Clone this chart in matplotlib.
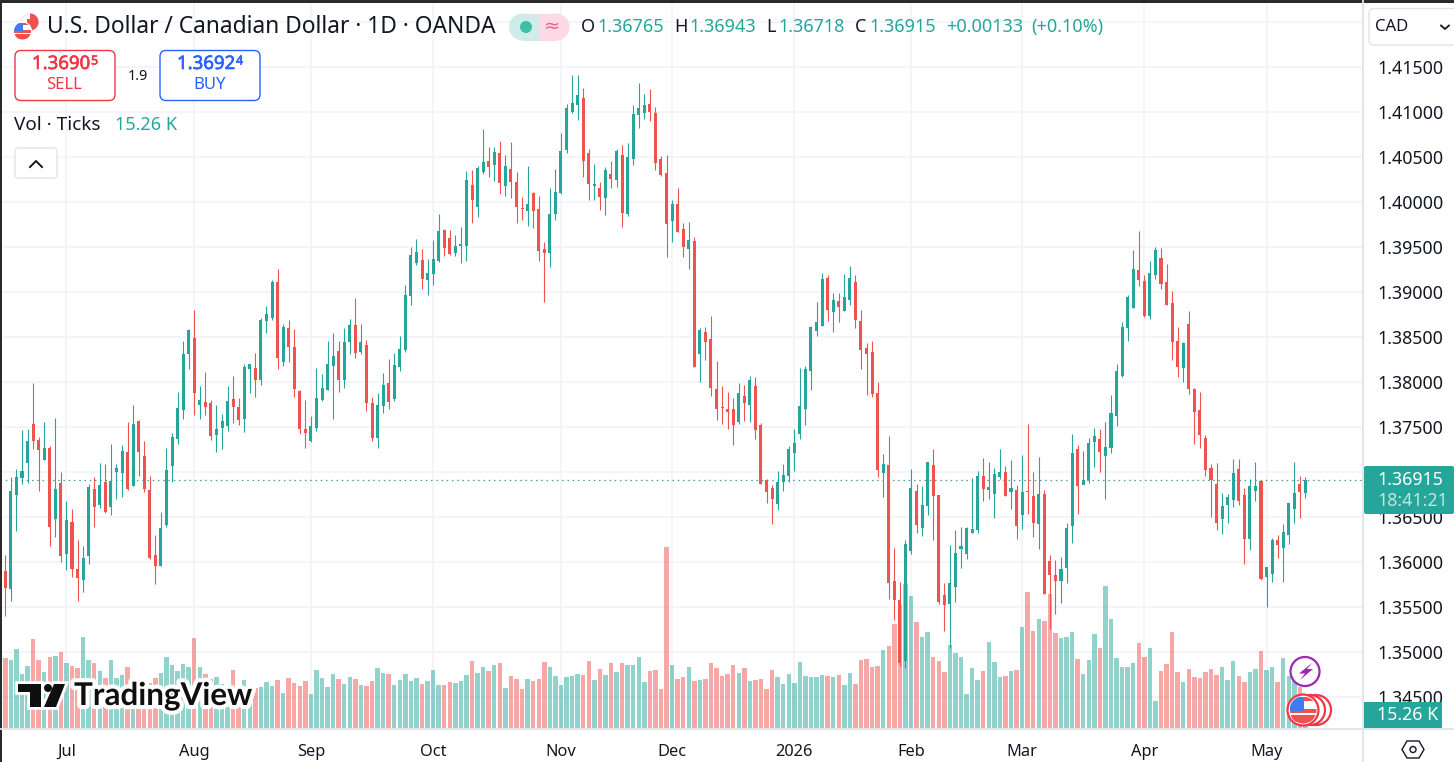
import numpy as np
import matplotlib
matplotlib.use("Agg")
import matplotlib.pyplot as plt
from matplotlib.patches import Circle, FancyBboxPatch, Polygon, Rectangle, Wedge
import matplotlib.patheffects as pe

# daily candles, prices in points (1e-5)
opens = [
    136026, 135904, 135704, 136748, 136937, 137104, 137537, 137359, 137137, 137270,
    136481, 136881, 136093, 136448, 135926, 135804, 136070, 136815, 136637, 136893,
    136615, 137004, 136993, 137226, 136848, 137570, 137181, 136804, 136081, 135959,
    136415, 137070, 137370, 137693, 138315, 138493, 137748, 137781, 137770, 137415,
    137493, 137515, 137815, 137726, 137593, 138148, 138159, 138026, 138681, 138715,
    139115, 138226, 138604, 138393, 137904, 137481, 137348, 137493, 137804, 137915,
    138181, 138348, 138026, 138448, 138637, 138337, 138415, 137770, 137381, 137737,
    137993, 137815, 138170, 138359, 138959, 139326, 139359, 139137, 139204, 139348,
    139693, 139604, 139437, 139515, 139515, 140193, 139948, 140337, 140459, 140415,
    140548, 140181, 140370, 140226, 139937, 139904, 140104, 139926, 139481, 139437,
    139870, 140104, 140581, 141004, 141081, 141159, 140548, 140181, 140159, 140048,
    140315, 140248, 140526, 139870, 140481, 140970, 140993, 141093, 140993, 140481,
    140326, 139793, 139981, 139704, 139481, 139570, 138315, 138559, 138481, 137926,
    137726, 137704, 137704, 137559, 137848, 137748, 137959, 137526, 136915, 136826,
    136648, 136893, 136959, 137215, 137426, 137704, 138126, 138570, 138626, 139159,
    138781, 138904, 138793, 138915, 139115, 138681, 138381, 138337, 137881, 136993,
    137081, 135793, 135581, 134904, 136126, 136793, 136381, 136626, 137081, 136748,
    135637, 135537, 135726, 136148, 136093, 136326, 136359, 136959, 136804, 136759,
    136948, 137004, 136781, 136804, 136526, 136793, 136737, 136426, 136759, 136015,
    135859, 135793, 135937, 136404, 137259, 136859, 136915, 137337, 137370, 137181,
    137270, 137626, 138070, 138604, 138826, 139248, 139126, 138737, 139193, 139381,
    139115, 138881, 138459, 138159, 138648, 137926, 137693, 137381, 137048, 136870,
    136481, 136637, 136693, 137037, 136748, 136259, 136793, 136904, 135837, 135870,
    136248, 136159, 136304, 136593, 136870, 136765,
]
highs = [
    136100, 136081, 136944, 137037, 137470, 137481, 137993, 137393, 137559, 137293,
    137604, 137004, 136681, 136593, 136248, 136181, 136870, 136948, 137104, 137093,
    137315, 137093, 137304, 137559, 137748, 137581, 137348, 136959, 136304, 136559,
    137270, 137437, 137893, 138459, 138593, 138804, 137959, 138115, 137804, 137748,
    137648, 137959, 138070, 137826, 138204, 138204, 138326, 138715, 138848, 139137,
    139259, 138648, 138693, 138593, 137915, 137804, 137626, 138159, 138093, 138459,
    138548, 138459, 138604, 138704, 138937, 138648, 138470, 137837, 137881, 138104,
    138259, 138326, 138515, 139081, 139504, 139593, 139481, 139370, 139581, 139870,
    139704, 139693, 139637, 139726, 140348, 140359, 140404, 140815, 140615, 140615,
    140681, 140526, 140670, 140337, 140059, 140404, 140115, 140070, 139559, 140159,
    140370, 140770, 141093, 141415, 141415, 141270, 140593, 140426, 140226, 140393,
    140459, 140593, 140637, 140659, 141081, 141326, 141204, 141259, 141059, 140515,
    140526, 140026, 140159, 139770, 139781, 139615, 138604, 138615, 138737, 138237,
    137959, 137893, 137826, 137993, 137970, 138070, 138059, 137548, 136926, 136859,
    137015, 137093, 137293, 137481, 138159, 138181, 138626, 138893, 139215, 139193,
    138993, 138993, 139204, 139293, 139193, 138804, 138437, 138459, 138004, 137204,
    137404, 136159, 135781, 136248, 137037, 136870, 136848, 137115, 137259, 136748,
    135770, 136193, 136359, 136393, 136393, 136937, 137015, 137159, 137115, 137048,
    137259, 137070, 137137, 136859, 137193, 137537, 137004, 137170, 136804, 136081,
    136026, 136059, 136437, 137426, 137304, 137237, 137381, 137493, 137481, 137559,
    137859, 138204, 138670, 138970, 139470, 139681, 139193, 139348, 139504, 139493,
    139315, 139015, 138615, 138448, 138793, 137937, 137893, 137415, 137093, 137104,
    136770, 136759, 137148, 137148, 136826, 136926, 137115, 136904, 135948, 136270,
    136304, 136426, 136659, 137115, 136959, 136943,
]
lows = [
    135804, 135404, 135574, 136348, 136870, 136881, 137259, 136793, 137137, 136181,
    136281, 136004, 135915, 135837, 135570, 135670, 135981, 136393, 136604, 136548,
    136526, 136704, 136726, 136804, 136848, 136959, 136781, 136037, 135763, 135959,
    136393, 136893, 137315, 137593, 138148, 137637, 137593, 137637, 137359, 137226,
    137259, 137459, 137548, 137526, 137448, 137881, 137837, 137970, 138548, 138693,
    138148, 138181, 138226, 137837, 137426, 137270, 137337, 137459, 137793, 137915,
    137593, 137893, 137937, 138315, 138270, 138315, 137681, 137348, 137270, 137659,
    137704, 137793, 138126, 138337, 138859, 139304, 139037, 138970, 139081, 139337,
    139404, 139415, 139404, 139326, 139348, 139770, 139837, 140315, 140281, 140237,
    140093, 140070, 140048, 139770, 139804, 139737, 139715, 139348, 138893, 139281,
    139804, 140093, 140548, 140993, 140915, 140281, 140026, 140026, 139915, 139859,
    140159, 140170, 139726, 139848, 140415, 140826, 140926, 140904, 140359, 140293,
    139393, 139559, 139670, 139393, 139259, 138170, 138004, 138248, 137848, 137581,
    137537, 137481, 137304, 137537, 137570, 137559, 137370, 136870, 136659, 136426,
    136581, 136793, 136893, 137015, 137370, 137526, 137915, 138515, 138626, 138681,
    138559, 138670, 138793, 138859, 138604, 138148, 137859, 137837, 136948, 136726,
    135593, 135359, 134848, 134826, 136093, 136326, 136293, 136526, 136248, 135537,
    135237, 135048, 135559, 135937, 136037, 136326, 136326, 136681, 136704, 136493,
    136926, 136737, 136593, 136259, 136370, 136537, 136281, 136148, 135648, 135259,
    135426, 135548, 135770, 136215, 136537, 136881, 136881, 137059, 137004, 136704,
    137215, 137515, 138059, 138459, 138826, 139070, 138726, 138704, 139148, 139037,
    138859, 138248, 138059, 138004, 137870, 137315, 137270, 136959, 136504, 136359,
    136315, 136437, 136615, 136637, 135981, 136137, 136681, 135804, 135504, 135781,
    136048, 135781, 136204, 136437, 136493, 136718,
]
closes = [
    135830, 135715, 136793, 136948, 137015, 137348, 137348, 137248, 137270, 136393,
    136815, 136070, 136470, 135926, 135826, 136048, 136837, 136615, 136859, 136559,
    136904, 137048, 137237, 136815, 137537, 137226, 136815, 136048, 135959, 136381,
    137026, 137393, 137715, 138315, 138581, 137881, 137804, 137726, 137404, 137481,
    137570, 137793, 137726, 137581, 138170, 138204, 138026, 138693, 138759, 139115,
    138270, 138615, 138393, 137926, 137481, 137437, 137515, 137826, 137937, 138204,
    138293, 138026, 138448, 138637, 138326, 138448, 137770, 137381, 137748, 137970,
    137781, 138193, 138370, 138970, 139415, 139448, 139148, 139215, 139370, 139681,
    139493, 139426, 139515, 139537, 140248, 140026, 140381, 140448, 140393, 140559,
    140215, 140404, 140226, 139948, 139926, 139981, 139904, 139459, 139437, 139870,
    140115, 140570, 141048, 141104, 141193, 140459, 140204, 140204, 140059, 140359,
    140259, 140570, 139881, 140504, 140981, 141048, 141081, 141004, 140437, 140304,
    139759, 139981, 139670, 139504, 139581, 138170, 138581, 138448, 137937, 137704,
    137715, 137670, 137526, 137881, 137770, 138026, 137470, 136870, 136781, 136704,
    136893, 136970, 137259, 137326, 137737, 138148, 138615, 138670, 139148, 138804,
    138915, 138837, 138948, 139159, 138693, 138359, 138315, 137870, 137026, 137093,
    135770, 135581, 134881, 136204, 136826, 136415, 136637, 137115, 136737, 135559,
    135526, 135770, 136104, 136181, 136381, 136370, 136959, 136815, 136837, 136981,
    137004, 136737, 136826, 136404, 136781, 136781, 136437, 136759, 135648, 135859,
    135793, 135926, 136381, 137215, 136848, 136915, 137326, 137404, 137226, 137281,
    137659, 138126, 138615, 138948, 139259, 139137, 138737, 139215, 139470, 139093,
    138859, 138448, 138170, 138437, 137926, 137670, 137415, 137026, 136915, 136437,
    136626, 136726, 136993, 136681, 136259, 136848, 136848, 135815, 135948, 136248,
    136193, 136337, 136659, 136770, 136781, 136915,
]
# tick volume, thousands
volumes = [
    477, 352, 342, 397, 272, 312, 447, 342, 282, 357, 362, 382, 327, 312, 302, 457, 342, 327, 287, 252,
    342, 252, 267, 307, 247, 232, 225, 227, 252, 277, 357, 317, 287, 322, 307, 452, 307, 272, 247, 257,
    222, 202, 292, 207, 242, 200, 200, 207, 232, 212, 242, 177, 252, 227, 212, 237, 172, 292, 252, 207,
    272, 247, 222, 257, 247, 217, 212, 237, 302, 277, 272, 217, 242, 272, 237, 252, 222, 237, 292, 217,
    217, 232, 227, 237, 267, 337, 277, 307, 287, 317, 327, 202, 262, 247, 197, 247, 237, 247, 332, 307,
    262, 217, 257, 262, 272, 267, 337, 242, 297, 267, 327, 282, 327, 317, 317, 357, 232, 287, 292, 197,
    907, 317, 247, 257, 307, 237, 242, 247, 327, 302, 262, 272, 317, 277, 302, 237, 242, 247, 197, 292,
    257, 222, 272, 227, 332, 262, 257, 257, 267, 262, 257, 267, 217, 277, 222, 342, 347, 307, 312, 392,
    412, 522, 617, 722, 662, 532, 457, 482, 357, 337, 282, 417, 377, 357, 172, 302, 242, 287, 432, 332,
    257, 262, 287, 292, 507, 682, 487, 547, 537, 672, 477, 452, 457, 482, 347, 272, 342, 472, 402, 712,
    547, 352, 307, 307, 327, 427, 357, 402, 137, 287, 322, 482, 282, 232, 297, 257, 252, 282, 297, 267,
    307, 242, 337, 262, 232, 282, 297, 387, 292, 307, 232, 352, 262, 242, 207, 15.26,
]

price_ticks = [1.345, 1.35, 1.355, 1.36, 1.365, 1.37, 1.375, 1.38, 1.385, 1.39, 1.395, 1.40, 1.405, 1.41, 1.415]
grid_only = [1.42]
month_pos = [12, 35, 56, 78, 101, 121, 143, 164, 184, 206, 228]
month_labels = ["Jul", "Aug", "Sep", "Oct", "Nov", "Dec", "2026", "Feb", "Mar", "Apr", "May"]
last_price = 1.36915

W, H = 1454, 762
GREEN = "#26a69a"
RED = "#ef5350"
INK = "#131722"
LINE = "#e0e3eb"
GRID = "#f0f3fa"
FONT = "Noto Sans"

plt.rcParams["font.family"] = [FONT, "DejaVu Sans"]

o = np.array(opens) / 1e5
h = np.array(highs) / 1e5
l = np.array(lows) / 1e5
c = np.array(closes) / 1e5
v = np.array(volumes, dtype=float)
x = np.arange(len(o))
up = c >= o
colors = np.where(up, GREEN, RED)

fig = plt.figure(figsize=(W / 100, H / 100), dpi=100, facecolor="white")

# price pane runs from the left edge to the scale, down to the time axis
pane = [0, 1 - 728.3 / H, 1363 / W, 728.3 / H]
xlim = (0.036, 245.36)
ylim = (1.39 - 436 / 9000, 1.39 + 292.3 / 9000)

# grid sits under the volume, candles over it
back = fig.add_axes(pane, zorder=0)
vol = fig.add_axes(pane, zorder=1)
ax = fig.add_axes(pane, zorder=2)
vol.patch.set_visible(False)
ax.patch.set_visible(False)

back.set_xlim(xlim)
back.set_ylim(ylim)
back.hlines(price_ticks + grid_only, 0, 1, transform=back.get_yaxis_transform(), color=GRID, lw=1.1)
back.vlines(month_pos, 0, 1, transform=back.get_xaxis_transform(), color=GRID, lw=1.1)
back.set_xticks([])
back.set_yticks([])

vol.set_xlim(xlim)
vol.set_ylim(0, 728.3 * 5)
vol.bar(x, v, width=0.8, color=np.where(up, GREEN, RED), alpha=0.5, linewidth=0)
vol.set_xticks([])
vol.set_yticks([])

ax.set_xlim(xlim)
ax.set_ylim(ylim)
ax.axhline(last_price, color="#4f9a93", lw=0.9, ls=(0, (1.2, 3.0)), zorder=1)
ax.vlines(x, l, h, color=colors, lw=0.8, zorder=3)
body_low = np.minimum(o, c)
body_h = np.maximum(np.abs(c - o), 0.00011)
ax.bar(x, body_h, bottom=body_low, width=0.55, color=colors, linewidth=0, zorder=4)

ax.yaxis.tick_right()
ax.set_yticks(price_ticks)
# 1.37000 sits behind the last price tag in the original, so it has no label
ax.set_yticklabels(["" if p == 1.37 else f"{p:.5f}" for p in price_ticks], fontsize=12.8, color=INK)
ax.tick_params(axis="y", length=0, pad=10)
ax.set_xticks(month_pos)
ax.set_xticklabels(month_labels, fontsize=11.8, color=INK)
ax.tick_params(axis="x", length=0, pad=11)
for lab in ax.get_xticklabels():
    if lab.get_text() == "2026":
        lab.set_fontweight("bold")
for ax_ in (ax, vol, back):
    for s in ax_.spines.values():
        s.set_visible(False)

# overlay in screen pixels for the chart furniture
ui = fig.add_axes([0, 0, 1, 1], zorder=5)
ui.set_xlim(0, W)
ui.set_ylim(H, 0)
ui.axis("off")
ui.patch.set_visible(False)

ui.add_patch(Rectangle((0, 0), W, 2.5, color="#2a2a2a", lw=0))
ui.add_patch(Rectangle((0, 0), 1.5, H, color="#2a2a2a", lw=0))
ui.plot([0, W], [728.5, 728.5], color=LINE, lw=1.3)
ui.plot([1363, 1363], [0, H], color=LINE, lw=1.3)


def label(px, py, s, size=11, color=INK, ha="left", **kw):
    return ui.text(px, py + 2, s, fontsize=size, color=color, ha=ha, va="center", **kw)


def semibold(color, w=0.45):
    return [pe.withStroke(linewidth=w, foreground=color)]


def box(x0, y0, x1, y1, edge, face="white", r=6, lw=1.0, z=2):
    p = FancyBboxPatch((x0 + r, y0 + r), x1 - x0 - 2 * r, y1 - y0 - 2 * r,
                       boxstyle=f"round,pad={r},rounding_size={r}",
                       fc=face, ec=edge, lw=lw, zorder=z, mutation_aspect=1)
    ui.add_patch(p)


def flag_us(cx, cy, r, z=6):
    clip = Circle((cx, cy), r, transform=ui.transData)
    ui.add_patch(Circle((cx, cy), r, fc="white", ec="none", zorder=z))
    for k in range(3):
        st = Rectangle((cx - r, cy - r + k * 2 * r / 3 + (r / 4.0 if k else 0)), 2 * r, r / 3,
                       fc="#f0504f", ec="none", zorder=z + 0.1)
        ui.add_patch(st)
        st.set_clip_path(clip)
    bottom = Rectangle((cx - r, cy + r * 0.35), 2 * r, r, fc="#f0504f", ec="none", zorder=z + 0.2)
    ui.add_patch(bottom)
    bottom.set_clip_path(clip)
    canton = Rectangle((cx - r, cy - r), r * 1.05, r * 1.05, fc="#3d7df0", ec="none", zorder=z + 0.3)
    ui.add_patch(canton)
    canton.set_clip_path(clip)


# symbol icons
ui.add_patch(Circle((30, 22), 8.5, fc="white", ec="#e8e8e8", lw=0.8, zorder=3))
ui.add_patch(Wedge((30, 22), 8.5, -90, 90, fc="#f0504f", ec="none", zorder=3.1))
ui.add_patch(Rectangle((27, 19), 4, 6, fc="#f0504f", ec="none", zorder=3.2))
ui.add_patch(Circle((22.5, 31), 9.5, fc="white", ec="none", zorder=3.5))
flag_us(22.5, 31, 8.5, z=4)

label(47, 25, "U.S. Dollar / Canadian Dollar · 1D · OANDA", size=16.4)

# market status pill
ui.add_patch(Circle((522.5, 27), 13.5, fc="#cfece8", ec="none", zorder=2))
ui.add_patch(Rectangle((522, 13.5), 18, 27, fc="#cfece8", ec="none", zorder=2))
ui.add_patch(Rectangle((540, 13.5), 16, 27, fc="#fdd8e5", ec="none", zorder=2))
ui.add_patch(Circle((556, 27), 13.5, fc="#fdd8e5", ec="none", zorder=1.9))
ui.add_patch(Circle((526, 27), 6, fc="#3dbfa6", ec="none", zorder=3))
label(552, 24, "≈", size=14, color="#f06292", ha="center", zorder=3, family="DejaVu Sans")

# OHLC legend
for px, s, col in [
    (581, "O", INK), (597, "1.36765", GREEN), (674, "H", INK), (689, "1.36943", GREEN),
    (766, "L", INK), (778, "1.36718", GREEN), (855, "C", INK), (869, "1.36915", GREEN),
    (946, "+0.00133", GREEN), (1031, "(+0.10%)", GREEN),
]:
    label(px, 25, s, size=13, color=col)

# sell / buy
box(15, 50.5, 115, 100.5, "#f23645")
box(160, 50.5, 260, 100.5, "#2962ff")
label(32, 62, "1.3690", size=13.4, color="#f23645", zorder=3, path_effects=semibold("#f23645"))
label(91, 59, "5", size=9, color="#f23645", zorder=3, path_effects=semibold("#f23645"))
label(64, 83, "SELL", size=12, color="#f23645", ha="center", zorder=3)
label(177, 62, "1.3692", size=13.4, color="#2962ff", zorder=3, path_effects=semibold("#2962ff"))
label(236, 59, "4", size=9, color="#2962ff", zorder=3, path_effects=semibold("#2962ff"))
label(210, 83, "BUY", size=12, color="#2962ff", ha="center", zorder=3)
label(137.5, 74, "1.9", size=10.4, ha="center")

label(14, 123, "Vol · Ticks", size=13.6)
label(115, 123, "15.26 K", size=13, color=GREEN)

box(15, 148, 57, 178, LINE, r=3)
ui.plot([30, 36, 42], [167, 161, 167], color=INK, lw=1.4, zorder=3)

# top right currency button
box(1369, 8.5, 1480, 45, LINE, r=5)
label(1375, 25, "CAD", size=12, zorder=3)
ui.plot([1441, 1445, 1449], [25.5, 29, 25.5], color=INK, lw=1.3, zorder=3)

# last price and volume tags
ui.add_patch(FancyBboxPatch((1364, 466), 90, 48, boxstyle="round,pad=0,rounding_size=2", fc=GREEN, ec="none", zorder=4))
label(1377, 478, "1.36915", size=12.8, color="white", zorder=5)
label(1377, 499, "18:41:21", size=12.8, color="#bfe6e2", zorder=5)
ui.add_patch(Rectangle((1364, 702), 78, 26, fc=GREEN, ec="none", zorder=4))
label(1377, 713, "15.26 K", size=12.8, color="white", zorder=5)

# settings hexagon
ui.add_patch(Polygon([(1402, 749.5), (1407, 741), (1419, 741), (1424, 749.5), (1419, 758), (1407, 758)],
                     closed=True, fc="none", ec=INK, lw=1.0))
ui.add_patch(Circle((1413, 749.5), 3, fc="none", ec=INK, lw=1.0))

# events markers
ui.add_patch(Circle((1305, 671.5), 14.5, fc="white", ec="#9c27b0", lw=1.6, zorder=6))
ui.add_patch(Polygon([(1312, 663), (1299, 673.5), (1305, 673.5), (1300, 680), (1313, 669), (1307, 669)],
                     closed=True, fc="#9c27b0", ec="none", zorder=7))
for cx, z in [(1316, 6), (1310, 6.5)]:
    ui.add_patch(Circle((cx, 710), 15, fc="white", ec="#f23645", lw=1.6, zorder=z))
ui.add_patch(Circle((1303, 710), 15.5, fc="white", ec="#f23645", lw=1.6, zorder=7))
flag_us(1303, 710, 13.5, z=7.1)

# watermark logo
halo = [pe.withStroke(linewidth=6, foreground="white")]
label(74, 694, "TradingView", size=22.6, color="#0f0f0f", fontweight="bold", family="Lato",
      zorder=6.5, path_effects=halo)
for pts in (
    [(18, 684), (41, 684), (41, 707), (30, 707), (30, 692), (18, 692)],
    [(54, 684), (65, 684), (56, 707), (44, 707)],
):
    ui.add_patch(Polygon(pts, closed=True, fc="white", ec="white", lw=4, zorder=5.8))
    ui.add_patch(Polygon(pts, closed=True, fc="#0f0f0f", ec="none", zorder=6))
ui.add_patch(Circle((48, 688), 4, fc="white", ec="white", lw=4, zorder=5.8))
ui.add_patch(Circle((48, 688), 4, fc="#0f0f0f", ec="none", zorder=6))

fig.savefig("out.png", dpi=100)
print("Saved results to: out.png")
